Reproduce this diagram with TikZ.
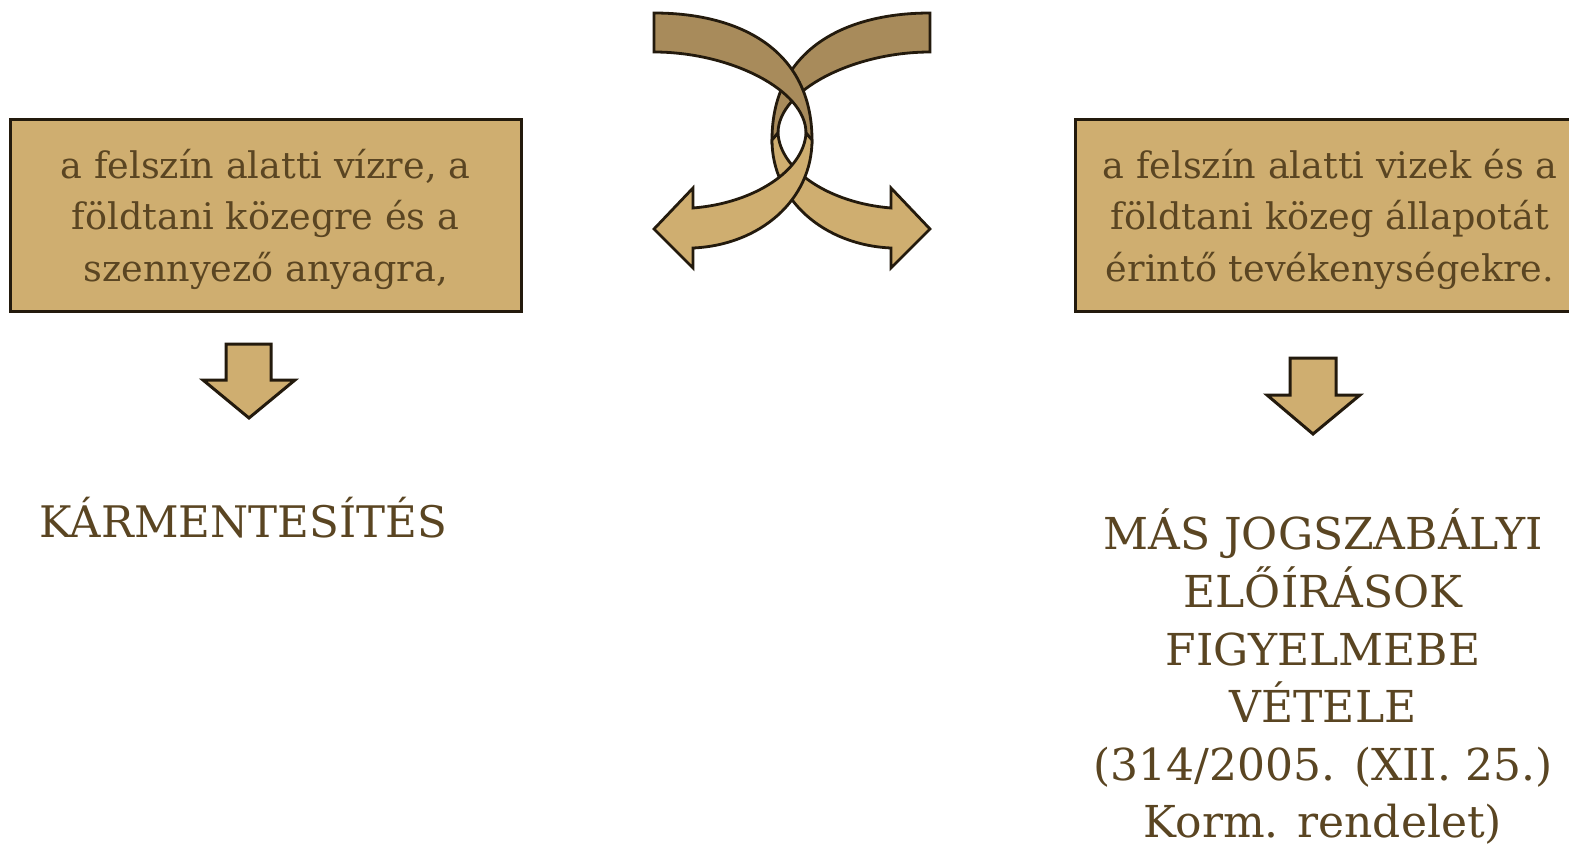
\documentclass[tikz,border=0pt]{standalone}
\usepackage{fontspec}
\setmainfont{DejaVu Serif}
\definecolor{boxfill}{HTML}{CFAE70}
\definecolor{darkfill}{HTML}{A88B5B}
\definecolor{txt}{HTML}{5A4522}
\definecolor{edge}{HTML}{231A0D}
\begin{document}
\begin{tikzpicture}[x=1pt,y=-1pt,
  box/.style={draw=edge, line width=3pt, fill=boxfill, text=txt, align=center,
    minimum width=511pt, minimum height=192pt, inner sep=0pt,
    font=\fontsize{36.6}{51.5}\selectfont},
  blockarrow/.style={draw=edge, line width=3pt, fill=boxfill, line join=miter},
  ribdark/.style={draw=edge, line width=2.8pt, fill=darkfill, line join=miter},
  riblight/.style={draw=edge, line width=2.8pt, fill=boxfill, line join=miter},
  bigtext/.style={text=txt, align=center, inner sep=0pt}]
\useasboundingbox (0,0) rectangle (1569,844);
% boxes
\node[box] (lbox) at (265.5,215) {};
\node[text=txt, align=center, font=\fontsize{36.6}{51.5}\selectfont] (ltext) at (265.5,219) {a felszín alatti vízre, a\\földtani közegre és a\\szennyező anyagra,};
\node[box, minimum width=515pt] (rbox) at (1332.5,215) {};
\node[text=txt, align=center, font=\fontsize{36.6}{51.5}\selectfont] (rtext) at (1330,219) {a felszín alatti vizek és a\\földtani közeg állapotát\\érintő tevékenységekre.};
% down arrows
\path[blockarrow] (226,344) -- (271,344) -- (271,380) -- (295,380) -- (249,418) -- (203,380) -- (226,380) -- cycle;
\path[blockarrow] (1290,358) -- (1336,358) -- (1336,395) -- (1360,395) -- (1313,434) -- (1267,395) -- (1290,395) -- cycle;
% crossing ribbons: B (mirrored) first, then A
\begin{scope}[shift={(792,0)}, xscale=-1]
\path[ribdark] (-138,13) .. controls (-52,13) and (20,50) .. (20,140) -- (14,133) .. controls (14,90) and (-62,52) .. (-138,52) -- cycle;
\path[riblight] (20,140) .. controls (20,200) and (-32,245) .. (-99,248) -- (-99,268) -- (-138,229) -- (-99,188) -- (-99,208) .. controls (-37,203) and (12,170) .. (14,133) -- cycle;
\end{scope}
\begin{scope}[shift={(792,0)}]
\path[ribdark] (-138,13) .. controls (-52,13) and (20,50) .. (20,140) -- (14,133) .. controls (14,90) and (-62,52) .. (-138,52) -- cycle;
\path[riblight] (20,140) .. controls (20,200) and (-32,245) .. (-99,248) -- (-99,268) -- (-138,229) -- (-99,188) -- (-99,208) .. controls (-37,203) and (12,170) .. (14,133) -- cycle;
\end{scope}
% result texts
\node[bigtext, font=\fontsize{43.5}{50}\selectfont] (karm) at (243,518) {KÁRMENTESÍTÉS};
\node[bigtext, font=\fontsize{44}{57.6}\selectfont] (mas) at (1323,677) {MÁS JOGSZABÁLYI\\ELŐÍRÁSOK\\FIGYELMEBE\\VÉTELE\\(314/2005. (XII. 25.)\\Korm. rendelet)};
\end{tikzpicture}
\end{document}
